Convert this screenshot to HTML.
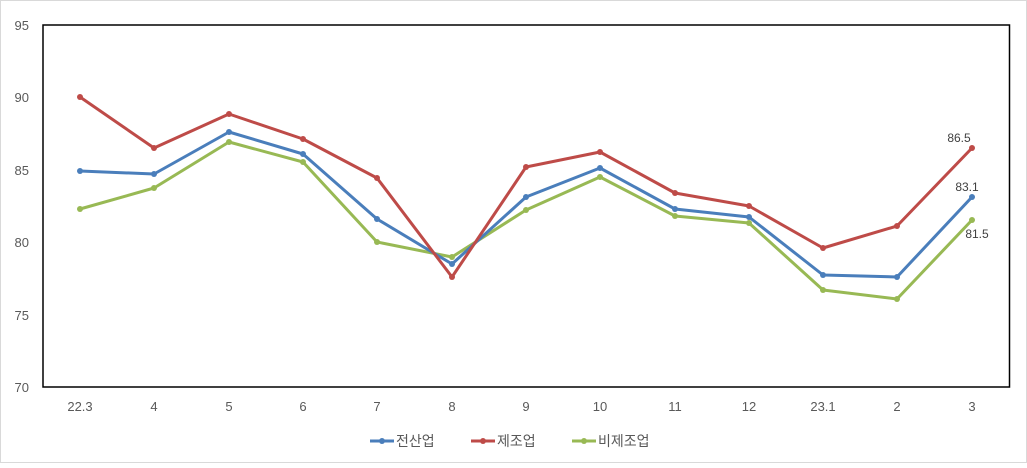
<!DOCTYPE html>
<html><head><meta charset="utf-8"><style>
body{margin:0;background:#fff}
svg text{font-family:"Liberation Sans","Noto Sans CJK KR",sans-serif;fill:#595959;font-size:13px}
</style></head><body>
<svg width="1027" height="463" viewBox="0 0 1027 463" xmlns="http://www.w3.org/2000/svg">
<rect x="0.5" y="0.5" width="1026" height="462" fill="#fff" stroke="#d9d9d9"/>
<rect x="43" y="25" width="966.5" height="362" fill="none" stroke="#000" stroke-width="1.5"/>
<g text-anchor="end">
<text x="29" y="30">95</text><text x="29" y="102">90</text><text x="29" y="175">85</text>
<text x="29" y="247">80</text><text x="29" y="320">75</text><text x="29" y="392">70</text>
</g>
<g text-anchor="middle">
<text x="80" y="411">22.3</text><text x="154" y="411">4</text><text x="229" y="411">5</text>
<text x="303" y="411">6</text><text x="377" y="411">7</text><text x="452" y="411">8</text>
<text x="526" y="411">9</text><text x="600" y="411">10</text><text x="675" y="411">11</text>
<text x="749" y="411">12</text><text x="823" y="411">23.1</text><text x="897" y="411">2</text>
<text x="972" y="411">3</text>
</g>
<g fill="none" stroke-width="3" stroke-linejoin="round">
<polyline stroke="#98b954" points="80,209 154,188 229,142 303,162 377,242 452,257 526,210 600,177 675,216 749,223 823,290 897,299 972,220"/>
<polyline stroke="#4a7ebb" points="80,171 154,174 229,132 303,154 377,219 452,264 526,197 600,168 675,209 749,217 823,275 897,277 972,197"/>
<polyline stroke="#be4b48" points="80,97 154,148 229,114 303,139 377,178 452,277 526,167 600,152 675,193 749,206 823,248 897,226 972,148"/>
</g>
<g fill="#98b954"><circle cx="80" cy="209" r="3"/><circle cx="154" cy="188" r="3"/><circle cx="229" cy="142" r="3"/><circle cx="303" cy="162" r="3"/><circle cx="377" cy="242" r="3"/><circle cx="452" cy="257" r="3"/><circle cx="526" cy="210" r="3"/><circle cx="600" cy="177" r="3"/><circle cx="675" cy="216" r="3"/><circle cx="749" cy="223" r="3"/><circle cx="823" cy="290" r="3"/><circle cx="897" cy="299" r="3"/><circle cx="972" cy="220" r="3"/></g>
<g fill="#4a7ebb"><circle cx="80" cy="171" r="3"/><circle cx="154" cy="174" r="3"/><circle cx="229" cy="132" r="3"/><circle cx="303" cy="154" r="3"/><circle cx="377" cy="219" r="3"/><circle cx="452" cy="264" r="3"/><circle cx="526" cy="197" r="3"/><circle cx="600" cy="168" r="3"/><circle cx="675" cy="209" r="3"/><circle cx="749" cy="217" r="3"/><circle cx="823" cy="275" r="3"/><circle cx="897" cy="277" r="3"/><circle cx="972" cy="197" r="3"/></g>
<g fill="#be4b48"><circle cx="80" cy="97" r="3"/><circle cx="154" cy="148" r="3"/><circle cx="229" cy="114" r="3"/><circle cx="303" cy="139" r="3"/><circle cx="377" cy="178" r="3"/><circle cx="452" cy="277" r="3"/><circle cx="526" cy="167" r="3"/><circle cx="600" cy="152" r="3"/><circle cx="675" cy="193" r="3"/><circle cx="749" cy="206" r="3"/><circle cx="823" cy="248" r="3"/><circle cx="897" cy="226" r="3"/><circle cx="972" cy="148" r="3"/></g>
<g style="font-size:12px" text-anchor="middle">
<text x="959" y="142" style="fill:#404040;font-size:12px">86.5</text>
<text x="967" y="191" style="fill:#404040;font-size:12px">83.1</text>
<text x="977" y="238" style="fill:#404040;font-size:12px">81.5</text>
</g>
<g stroke-width="3">
<line x1="370" y1="441" x2="394" y2="441" stroke="#4a7ebb"/><circle cx="382" cy="441" r="3" fill="#4a7ebb"/>
<line x1="471" y1="441" x2="495" y2="441" stroke="#be4b48"/><circle cx="483" cy="441" r="3" fill="#be4b48"/>
<line x1="572" y1="441" x2="596" y2="441" stroke="#98b954"/><circle cx="584" cy="441" r="3" fill="#98b954"/>
</g>
<text x="396" y="446" style="font-size:14px">전산업</text>
<text x="497" y="446" style="font-size:14px">제조업</text>
<text x="598" y="446" style="font-size:14px">비제조업</text>
</svg>
</body></html>
